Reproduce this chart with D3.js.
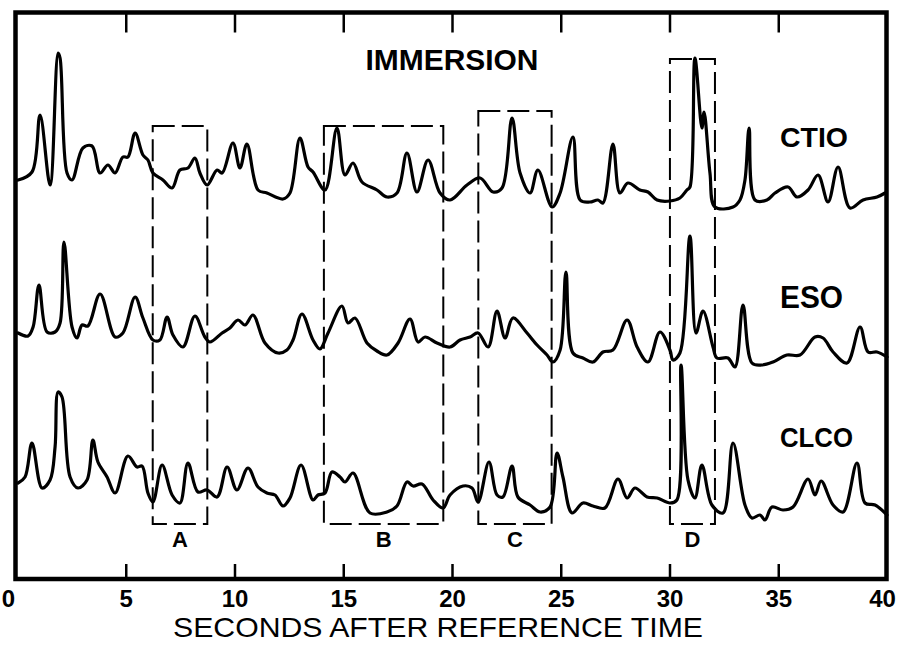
<!DOCTYPE html>
<html><head><meta charset="utf-8">
<script src="https://cdn.jsdelivr.net/npm/d3@7/dist/d3.min.js"></script>
<style>html,body{margin:0;padding:0;background:#fff;}svg{display:block;}</style>
</head><body>
<svg id="chart" width="900" height="648"></svg>
<script>
// ---- data (time in seconds, signal in arbitrary counts above each trace's floor) ----
const title = "IMMERSION";
const xLabel = "SECONDS AFTER REFERENCE TIME";
const tickValues = [0, 5, 10, 15, 20, 25, 30, 35, 40];
const stations = ["CTIO", "ESO", "CLCO"];

const ctio = [[0.05,30],[0.69,38],[1.06,95],[1.52,25],[1.89,157],[1.98,152],[2.30,37],[2.53,30],[3.03,62],[3.45,64],[3.82,37],[4.18,45],[4.51,37],[4.87,53],[5.10,53],[5.43,77],[5.79,55],[6.02,50],[6.25,37],[6.71,30],[7.13,22],[7.49,40],[7.86,42],[8.18,52],[8.41,37],[8.74,25],[9.20,40],[9.43,37],[9.93,67],[10.25,42],[10.57,66],[11.08,20],[11.49,17],[12.23,11],[12.55,17],[13.01,72],[13.38,43],[13.61,38],[14.16,20],[14.71,82],[15.08,35],[15.45,47],[15.86,28],[16.55,20],[17.01,13],[17.47,17],[17.93,57],[18.39,18],[18.90,50],[19.45,17],[19.91,10],[20.69,25],[21.29,32],[21.89,18],[22.30,22],[22.76,92],[23.13,37],[23.59,17],[23.95,40],[24.60,3],[24.97,17],[25.56,73],[25.89,10],[26.34,8],[26.71,10],[26.94,7],[27.40,66],[27.72,17],[28.09,27],[28.64,20],[29.01,18],[29.43,10],[30.02,9],[30.48,12],[30.80,20],[30.94,23],[31.17,152],[31.49,82],[31.59,98],[31.86,37],[32.09,3],[32.92,3],[33.24,10],[33.47,30],[33.66,82],[33.93,10],[34.48,10],[34.85,17],[35.45,23],[35.86,13],[36.37,20],[36.83,35],[37.29,8],[37.75,43],[38.30,2],[38.90,10],[39.54,13],[39.91,17]];

const eso = [[0.05,37],[0.51,34],[0.74,43],[1.01,85],[1.38,38],[1.75,38],[1.98,47],[2.16,128],[2.53,43],[2.76,32],[2.99,45],[3.26,44],[3.82,76],[4.51,33],[4.87,37],[5.43,73],[5.79,52],[6.25,30],[6.57,30],[6.90,53],[7.17,35],[7.63,23],[8.18,54],[8.64,33],[8.87,28],[9.43,37],[9.79,42],[10.16,50],[10.48,45],[10.85,55],[11.40,27],[12.00,17],[12.41,20],[12.69,30],[13.10,56],[13.61,30],[13.93,21],[14.30,37],[14.94,64],[15.22,47],[15.54,52],[16.09,27],[16.55,19],[17.01,15],[17.52,27],[18.07,51],[18.44,28],[18.76,33],[19.31,27],[19.91,23],[20.37,30],[20.83,33],[21.20,37],[21.66,23],[22.07,59],[22.44,32],[22.80,52],[23.45,37],[23.91,25],[24.37,15],[24.64,8],[24.97,20],[25.24,98],[25.56,17],[26.02,12],[26.48,8],[26.94,18],[27.40,20],[28.05,50],[28.51,23],[29.01,8],[29.56,38],[30.02,20],[30.16,10],[30.48,17],[30.94,134],[31.22,37],[31.54,59],[32.00,23],[32.18,12],[32.69,12],[33.01,3],[33.38,65],[33.79,7],[34.25,5],[34.76,8],[35.40,15],[36.00,15],[36.69,33],[37.06,32],[37.52,18],[38.16,7],[38.76,43],[39.13,18],[39.54,18],[40.00,13]];

const clco = [[0.05,37],[0.37,43],[0.69,77],[1.15,32],[1.52,40],[1.75,73],[1.89,128],[2.07,123],[2.44,43],[2.80,32],[3.22,40],[3.49,80],[3.72,58],[4.14,43],[4.51,27],[5.10,64],[5.52,53],[5.75,54],[6.02,27],[6.25,18],[6.67,55],[7.13,25],[7.49,17],[7.86,57],[8.32,28],[8.74,30],[9.20,23],[9.66,53],[10.11,30],[10.62,52],[11.08,33],[11.49,27],[11.86,25],[12.23,14],[12.55,22],[13.06,55],[13.61,20],[13.84,25],[14.16,27],[14.48,48],[14.85,43],[15.08,38],[15.45,47],[16.23,7],[17.01,8],[17.47,14],[17.93,38],[18.21,34],[18.62,36],[19.13,20],[19.59,12],[19.91,25],[20.51,34],[20.92,32],[21.20,18],[21.70,58],[22.07,25],[22.34,23],[22.76,54],[23.03,23],[23.59,15],[24.05,8],[24.51,13],[24.83,67],[25.10,43],[25.52,7],[26.02,17],[26.48,14],[27.03,12],[27.63,41],[28.05,22],[28.41,32],[28.97,23],[29.43,22],[30.02,17],[30.34,20],[30.53,155],[30.85,40],[31.17,22],[31.49,55],[31.95,15],[32.46,7],[32.92,77],[33.47,15],[33.79,2],[34.16,5],[34.39,0],[34.71,13],[35.22,10],[35.68,13],[36.37,41],[36.69,25],[36.97,39],[37.52,15],[37.98,8],[38.62,57],[38.99,17],[39.45,15],[40.00,5]];

// comparison windows (seconds); top edge given in CTIO counts
const boxLabels = ["A", "B", "C", "D"];
const boxStart  = [6.24, 14.11, 21.21, 30.02];
const boxEnd    = [8.75, 19.60, 24.58, 32.09];
const boxTop    = [84, 84, 99, 151];

// ---- drawing ----
const svg = d3.select("#chart");
const frame = {left: 15.5, right: 886.5, top: 12.5, bottom: 579};
const x = d3.scaleLinear().domain([0, 40]).range([17, 887]);
const floors = {CTIO: 210, ESO: 370, CLCO: 520};
const yFor = name => d3.scaleLinear().domain([0, 200]).range([floors[name], floors[name] - 200]);
const ys = {CTIO: yFor("CTIO"), ESO: yFor("ESO"), CLCO: yFor("CLCO")};
const seriesData = {CTIO: ctio, ESO: eso, CLCO: clco};
const font = "'Liberation Sans', Arial, Helvetica, sans-serif";

// traces
stations.forEach(name => {
  const line = d3.line().curve(d3.curveCatmullRom.alpha(0.5))
    .x(d => x(d[0])).y(d => ys[name](d[1]));
  svg.append("path").datum(seriesData[name])
    .attr("d", line).attr("fill", "none").attr("stroke", "#000")
    .attr("stroke-width", 3.2).attr("stroke-linejoin", "round").attr("stroke-linecap", "round");
});

// dashed windows
boxLabels.forEach((lab, i) => {
  const x0 = x(boxStart[i]), x1 = x(boxEnd[i]);
  const yt = ys.CTIO(boxTop[i]), yb = ys.CLCO(-4);
  svg.append("rect").attr("x", x0).attr("y", yt).attr("width", x1 - x0).attr("height", yb - yt)
    .attr("fill", "none").attr("stroke", "#000").attr("stroke-width", 2)
    .attr("stroke-dasharray", "22,7");
  svg.append("text").attr("x", (x0 + x1) / 2).attr("y", yb + 23)
    .attr("text-anchor", "middle").attr("font-family", font).attr("font-size", 22)
    .attr("font-weight", "bold").text(lab);
});

// frame
svg.append("rect").attr("x", frame.left).attr("y", frame.top)
  .attr("width", frame.right - frame.left).attr("height", frame.bottom - frame.top)
  .attr("fill", "none").attr("stroke", "#000").attr("stroke-width", 4.5);

// axis ticks (top and bottom, inward) via d3 axes
const inner = tickValues.filter(v => v > 0 && v < 40);
const topAxis = d3.axisBottom(x).tickValues(inner).tickSize(20).tickFormat("");
const gTop = svg.append("g").attr("transform", `translate(0,${frame.top})`).call(topAxis);
gTop.select(".domain").remove();
gTop.selectAll(".tick line").attr("stroke", "#000").attr("stroke-width", 2.5);

const botAxis = d3.axisTop(x).tickValues(inner).tickSize(15).tickFormat("");
const gBot = svg.append("g").attr("transform", `translate(0,${frame.bottom})`).call(botAxis);
gBot.select(".domain").remove();
gBot.selectAll(".tick line").attr("stroke", "#000").attr("stroke-width", 2.5);

const labAxis = d3.axisBottom(x).tickValues(tickValues).tickSize(0).tickPadding(0).tickFormat(d3.format("d"));
const gLab = svg.append("g").attr("transform", `translate(0,${frame.bottom})`).call(labAxis);
gLab.select(".domain").remove();
gLab.selectAll(".tick text")
  .attr("font-family", font).attr("font-size", 24).attr("font-weight", "bold")
  .attr("fill", "#000").attr("dy", null).attr("y", 28)
  .attr("dx", d => d === 0 ? -9 : (d === 40 ? -5 : 0));

// axis title
svg.append("text").attr("x", 438).attr("y", 637).attr("text-anchor", "middle")
  .attr("font-family", font).attr("font-size", 28)
  .attr("textLength", 530).attr("lengthAdjust", "spacingAndGlyphs").text(xLabel);

// title
svg.append("text").attr("x", 452).attr("y", 70).attr("text-anchor", "middle")
  .attr("font-family", font).attr("font-size", 30).attr("font-weight", "bold")
  .attr("textLength", 173).attr("lengthAdjust", "spacingAndGlyphs").text(title);

// station labels
const labelInfo = {CTIO: {w: 68, lvl: 63, fs: 28}, ESO: {w: 63, lvl: 62, fs: 31}, CLCO: {w: 73, lvl: 73, fs: 28}};
stations.forEach(name => {
  const li = labelInfo[name];
  svg.append("text").attr("x", x(35.08)).attr("y", ys[name](li.lvl))
    .attr("font-family", font).attr("font-size", li.fs).attr("font-weight", "bold")
    .attr("textLength", li.w).attr("lengthAdjust", "spacingAndGlyphs").text(name);
});
</script>
</body></html>
